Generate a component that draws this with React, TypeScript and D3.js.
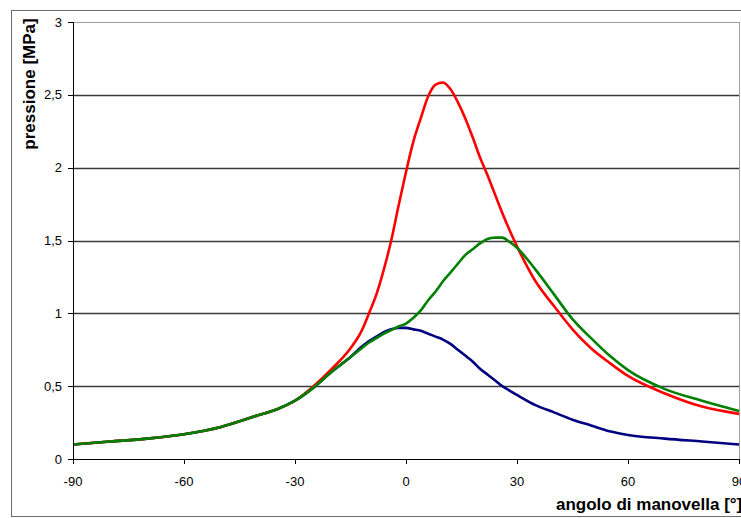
import React from "react";
import * as d3 from "d3";

// Crank angle samples (degrees) shared by all three pressure traces
const angles = [
  -90, -80, -70, -60, -50, -40, -35, -30, -25, -20, -15, -12, -10, -8, -6, -4,
  -2, 0, 2, 4, 6, 8, 10, 12, 14, 16, 18, 20, 22, 24, 26, 28, 30, 35, 40, 45, 50,
  55, 60, 70, 80, 90,
];

// Cylinder pressure [MPa]
const pressureRed = [
  0.1, 0.12, 0.14, 0.17, 0.22, 0.3, 0.34, 0.4, 0.5, 0.62, 0.76, 0.88, 1.0, 1.13,
  1.3, 1.5, 1.74, 1.97, 2.18, 2.34, 2.49, 2.57, 2.585, 2.54, 2.45, 2.34, 2.21,
  2.07, 1.95, 1.82, 1.69, 1.57, 1.46, 1.22, 1.05, 0.89, 0.76, 0.66, 0.57, 0.45,
  0.36, 0.31,
];
const pressureGreen = [
  0.1, 0.12, 0.14, 0.17, 0.22, 0.3, 0.34, 0.4, 0.49, 0.6, 0.7, 0.76, 0.8, 0.83,
  0.86, 0.885, 0.91, 0.93, 0.97, 1.02, 1.09, 1.15, 1.22, 1.28, 1.34, 1.4, 1.44,
  1.48, 1.51, 1.52, 1.52, 1.49, 1.45, 1.3, 1.13, 0.96, 0.83, 0.71, 0.61, 0.48,
  0.4, 0.33,
];
const pressureBlue = [
  0.1, 0.12, 0.14, 0.17, 0.22, 0.3, 0.34, 0.4, 0.49, 0.6, 0.7, 0.77, 0.81, 0.84,
  0.87, 0.89, 0.9, 0.9, 0.89, 0.88, 0.86, 0.84, 0.82, 0.79, 0.75, 0.71, 0.67,
  0.62, 0.58, 0.54, 0.5, 0.47, 0.44, 0.37, 0.32, 0.27, 0.23, 0.19, 0.165, 0.14,
  0.12, 0.1,
];

const xTicks = [-90, -60, -30, 0, 30, 60, 90];
const yTicks = [0, 0.5, 1, 1.5, 2, 2.5, 3];
const yTickLabels = ["0", "0,5", "1", "1,5", "2", "2,5", "3"];

const series = [
  { name: "blue", values: pressureBlue, color: "#000080" },
  { name: "red", values: pressureRed, color: "#ff0000" },
  { name: "green", values: pressureGreen, color: "#008000" },
];

const W = 741;
const H = 518;
const M = { left: 73, right: 739, top: 22, bottom: 459 };
const FONT = "'Liberation Sans', Arial, sans-serif";

export default function App() {
  const x = d3.scaleLinear().domain([-90, 90]).range([M.left, M.right]);
  const y = d3.scaleLinear().domain([0, 3]).range([M.bottom, M.top]);

  const line = d3
    .line<number>()
    .x((_, i) => x(angles[i]))
    .y((d) => y(d))
    .curve(d3.curveMonotoneX);

  return (
    <svg
      width={W}
      height={H}
      style={{ position: "absolute", left: 0, top: 0, background: "#fff" }}
    >
      {/* outer chart frame */}
      <rect
        x={11.5}
        y={10.5}
        width={740}
        height={506}
        fill="#fff"
        stroke="#6e6e6e"
        strokeWidth={1}
      />

      {/* plot area border */}
      <line x1={M.left} x2={M.right} y1={M.top + 0.5} y2={M.top + 0.5} stroke="#a0a0a0" />
      <line x1={M.right + 0.5} x2={M.right + 0.5} y1={M.top} y2={M.bottom} stroke="#a0a0a0" />

      {/* horizontal gridlines */}
      {yTicks
        .filter((t) => t > 0 && t < 3)
        .map((t) => (
          <line
            key={"g" + t}
            x1={M.left}
            x2={M.right}
            y1={Math.round(y(t)) + 0.5}
            y2={Math.round(y(t)) + 0.5}
            stroke="#3a3a3a"
            strokeWidth={1.4}
          />
        ))}

      {/* pressure traces */}
      {series.map((s) => (
        <path
          key={s.name}
          d={line(s.values) || ""}
          fill="none"
          stroke={s.color}
          strokeWidth={2.6}
          strokeLinejoin="round"
        />
      ))}

      {/* y axis */}
      <line x1={M.left + 0.5} x2={M.left + 0.5} y1={M.top} y2={M.bottom} stroke="#000" />
      {yTicks.map((t, i) => (
        <g key={"y" + t}>
          <line
            x1={M.left - 5}
            x2={M.left}
            y1={Math.round(y(t)) + 0.5}
            y2={Math.round(y(t)) + 0.5}
            stroke="#000"
          />
          <text
            x={62}
            y={y(t) + 4.5}
            textAnchor="end"
            fontFamily={FONT}
            fontSize={13}
            fill="#000"
          >
            {yTickLabels[i]}
          </text>
        </g>
      ))}

      {/* x axis */}
      <line x1={M.left} x2={M.right} y1={M.bottom + 0.5} y2={M.bottom + 0.5} stroke="#000" />
      {xTicks.map((t) => (
        <g key={"x" + t}>
          <line
            x1={Math.round(x(t)) + 0.5}
            x2={Math.round(x(t)) + 0.5}
            y1={M.bottom}
            y2={M.bottom + 5}
            stroke="#000"
          />
          <text
            x={x(t)}
            y={486}
            textAnchor="middle"
            fontFamily={FONT}
            fontSize={13}
            fill="#000"
          >
            {t}
          </text>
        </g>
      ))}

      {/* axis titles */}
      <text
        transform="translate(35,84) rotate(-90)"
        textAnchor="middle"
        fontFamily={FONT}
        fontWeight="bold"
        fontSize={17}
        fill="#000"
      >
        pressione [MPa]
      </text>
      <text
        x={556}
        y={510}
        fontFamily={FONT}
        fontWeight="bold"
        fontSize={17}
        fill="#000"
      >
        angolo di manovella [°]
      </text>
    </svg>
  );
}
